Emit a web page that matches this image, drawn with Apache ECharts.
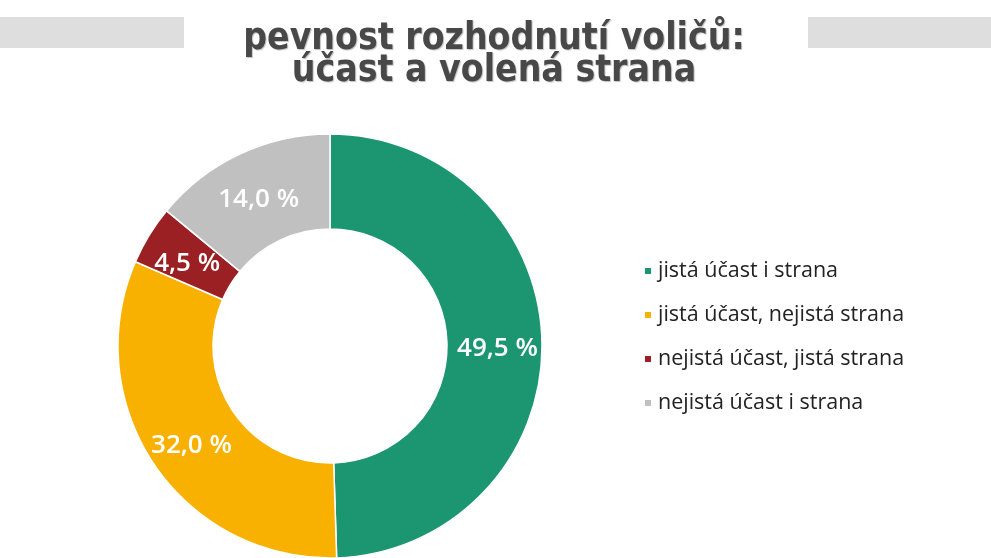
<!DOCTYPE html>
<html>
<head>
<meta charset="utf-8">
<script src="https://cdn.jsdelivr.net/npm/echarts@6/dist/echarts.min.js"></script>
<style>
html, body { margin: 0; padding: 0; background: #fff; }
#main { width: 991px; height: 558px; }
</style>
</head>
<body>
<div id="main"></div>
<script>
// kategorie a hodnoty
var categories = ['jistá účast i strana', 'jistá účast, nejistá strana', 'nejistá účast, jistá strana', 'nejistá účast i strana'];
var values = [49.5, 32.0, 4.5, 14.0];
var colors = ['#1b9671', '#f8b100', '#9b2024', '#c0c0c0'];

var chart = echarts.init(document.getElementById('main'));

var pieData = [];
for (var i = 0; i < categories.length; i++) {
	pieData.push({
		name: categories[i],
		value: values[i],
		itemStyle: { color: colors[i] }
	});
}

var option = {
	animation: false,
	title: {
		text: 'pevnost rozhodnutí voličů:\núčast a volená strana',
		left: 489,
		textAlign: 'center',
		top: 18,
		textStyle: {
			fontFamily: '"DejaVu Sans Condensed", sans-serif',
			fontWeight: 'bold',
			fontSize: 37,
			lineHeight: 32,
			color: '#484848',
			textShadowColor: 'rgba(0,0,0,0.25)',
			textShadowOffsetX: 1,
			textShadowOffsetY: 1,
			textShadowBlur: 1
		}
	},
	graphic: [
		{ type: 'rect', shape: { x: 0, y: 17, width: 184, height: 31 }, style: { fill: '#dedede' } },
		{ type: 'rect', shape: { x: 808, y: 17, width: 183, height: 31 }, style: { fill: '#dedede' } }
	],
	legend: {
		orient: 'vertical',
		left: 638,
		top: 255,
		itemWidth: 8,
		itemHeight: 8,
		itemGap: 22,
		icon: 'rect',
		data: categories,
		textStyle: {
			fontFamily: '"Open Sans", "Noto Sans", sans-serif',
			fontSize: 21.5,
			color: '#222',
			padding: [0, 0, 0, 1]
		}
	},
	series: [{
		type: 'pie',
		center: [330, 346],
		radius: [117, 212],
		startAngle: 90,
		clockwise: true,
		itemStyle: {
			borderColor: '#fff',
			borderWidth: 1.5
		},
		label: {
			show: true,
			position: 'inside',
			offset: [0, 5],
			formatter: function (p) {
				return p.value.toFixed(1).replace('.', ',') + ' %';
			},
			fontFamily: '"Open Sans", "Noto Sans", sans-serif',
			fontWeight: 600,
			fontSize: 26,
			color: '#fff'
		},
		labelLine: { show: false },
		emphasis: { disabled: true },
		data: pieData
	}]
};
chart.setOption(option);

window.onresize = function () {
	chart.resize();
};
</script>
</body>
</html>
